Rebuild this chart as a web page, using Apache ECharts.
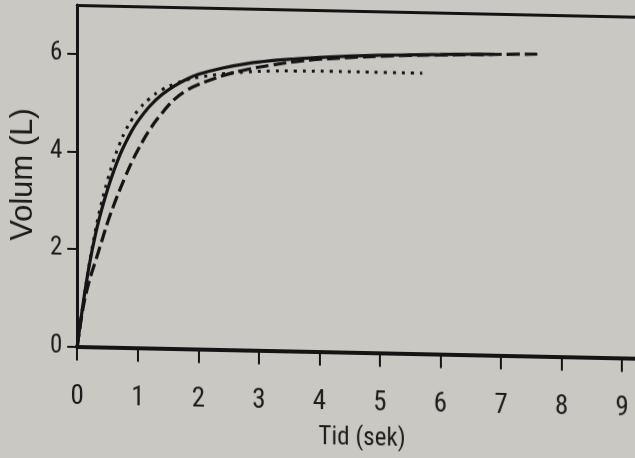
<!DOCTYPE html>
<html>
<head>
<meta charset="utf-8">
<script src="https://cdn.jsdelivr.net/npm/echarts@6/dist/echarts.min.js"></script>
<style>
  html, body { margin: 0; padding: 0; width: 635px; height: 458px; overflow: hidden; background: #cac8c3; }
  #chart { position: absolute; left: 0; top: 0; width: 660px; height: 458px;
           transform-origin: 77px 347px; transform: skewY(1.2deg); }
</style>
</head>
<body>
<div id="chart"></div>
<script>
// Time (s) and volume (L)
const solidTime = [0, 0.1, 0.2, 0.3, 0.4, 0.5, 0.6, 0.7, 0.8, 0.9, 1.0, 1.2, 1.4, 1.6, 1.8, 2.0, 2.4, 2.8, 3.2, 3.6, 4.0, 4.5, 5.0, 5.5, 6.0, 6.5, 6.9];
const solidVol  = [0, 0.9, 1.68, 2.3, 2.8, 3.23, 3.6, 3.93, 4.2, 4.44, 4.64, 4.96, 5.2, 5.38, 5.52, 5.63, 5.77, 5.87, 5.94, 5.99, 6.03, 6.07, 6.1, 6.12, 6.14, 6.16, 6.17];

const dashTime = [0, 0.1, 0.2, 0.3, 0.4, 0.5, 0.6, 0.7, 0.8, 0.9, 1.0, 1.2, 1.4, 1.6, 1.8, 2.0, 2.4, 2.8, 3.2, 3.6, 4.0, 4.5, 5.0, 5.5, 6.0, 6.5, 7.0, 7.6];
const dashVol  = [0, 0.82, 1.35, 1.75, 2.15, 2.55, 2.9, 3.22, 3.52, 3.8, 4.05, 4.48, 4.82, 5.1, 5.29, 5.42, 5.61, 5.75, 5.85, 5.93, 5.99, 6.04, 6.08, 6.11, 6.13, 6.15, 6.17, 6.19];

const dotTime = [0, 0.1, 0.2, 0.3, 0.4, 0.5, 0.6, 0.7, 0.8, 0.9, 1.0, 1.2, 1.4, 1.6, 1.8, 2.0, 2.4, 2.8, 3.2, 3.6, 4.2, 4.8, 5.7];
const dotVol  = [0, 0.9, 1.7, 2.38, 2.95, 3.42, 3.83, 4.17, 4.45, 4.67, 4.86, 5.12, 5.3, 5.42, 5.51, 5.57, 5.65, 5.7, 5.73, 5.74, 5.75, 5.75, 5.75];

const xTicks = [0, 1, 2, 3, 4, 5, 6, 7, 8, 9];
const yTicks = [0, 2, 4, 6];
const xName = 'Tid (sek)';
const yName = 'Volum (L)';

const pairs = (xs, ys) => xs.map((x, i) => [x, ys[i]]);
const ink = '#141414';
const txt = '#1c1c1c';
const narrow = "'Liberation Sans Narrow', 'Arial Narrow', 'Noto Sans Condensed', 'Roboto Condensed', 'DejaVu Sans Condensed', sans-serif";

const chart = echarts.init(document.getElementById('chart'), null, { renderer: 'canvas' });
chart.setOption({
  animation: false,
  backgroundColor: '#cac8c3',
  grid: { left: 77, top: 5, right: 13, bottom: 111.5, containLabel: false },
  xAxis: [{
    type: 'value', min: 0, max: 9.41,
    name: xName, nameLocation: 'middle', nameGap: 74,
    nameTextStyle: { fontFamily: narrow, fontSize: 25, color: txt },
    axisLine: { show: true, onZero: false, lineStyle: { color: ink, width: 4 } },
    axisTick: { show: true, length: 14, customValues: xTicks, lineStyle: { color: ink, width: 2 } },
    axisLabel: { customValues: xTicks, margin: 37, fontFamily: narrow, fontSize: 27, color: txt },
    splitLine: { show: false }
  }, {
    type: 'value', position: 'top', min: 0, max: 9.41,
    axisLine: { show: true, onZero: false, lineStyle: { color: ink, width: 3 } },
    axisTick: { show: false }, axisLabel: { show: false }, splitLine: { show: false }
  }],
  yAxis: {
    type: 'value', min: 0, max: 7,
    name: yName, nameLocation: 'middle', nameGap: 38,
    nameTextStyle: { fontFamily: "'Liberation Sans', Arial, sans-serif", fontSize: 31, color: txt },
    axisLine: { show: true, onZero: false, lineStyle: { color: ink, width: 3 } },
    axisTick: { show: true, length: 10, customValues: yTicks, lineStyle: { color: ink, width: 2 } },
    axisLabel: { customValues: yTicks, margin: 15, fontFamily: narrow, fontSize: 25, color: txt },
    splitLine: { show: false }
  },
  series: [
    { type: 'line', name: 'solid', data: pairs(solidTime, solidVol), showSymbol: false,
      smooth: 0.4, lineStyle: { color: ink, width: 3.2, type: 'solid' }, z: 3 },
    { type: 'line', name: 'dashed', data: pairs(dashTime, dashVol), showSymbol: false,
      smooth: 0.4, lineStyle: { color: ink, width: 3.2, type: [13, 5] }, z: 2 },
    { type: 'line', name: 'dotted', data: pairs(dotTime, dotVol), showSymbol: false,
      smooth: 0.4, lineStyle: { color: ink, width: 3, type: [3, 6] }, z: 2 }
  ]
});
</script>
</body>
</html>
